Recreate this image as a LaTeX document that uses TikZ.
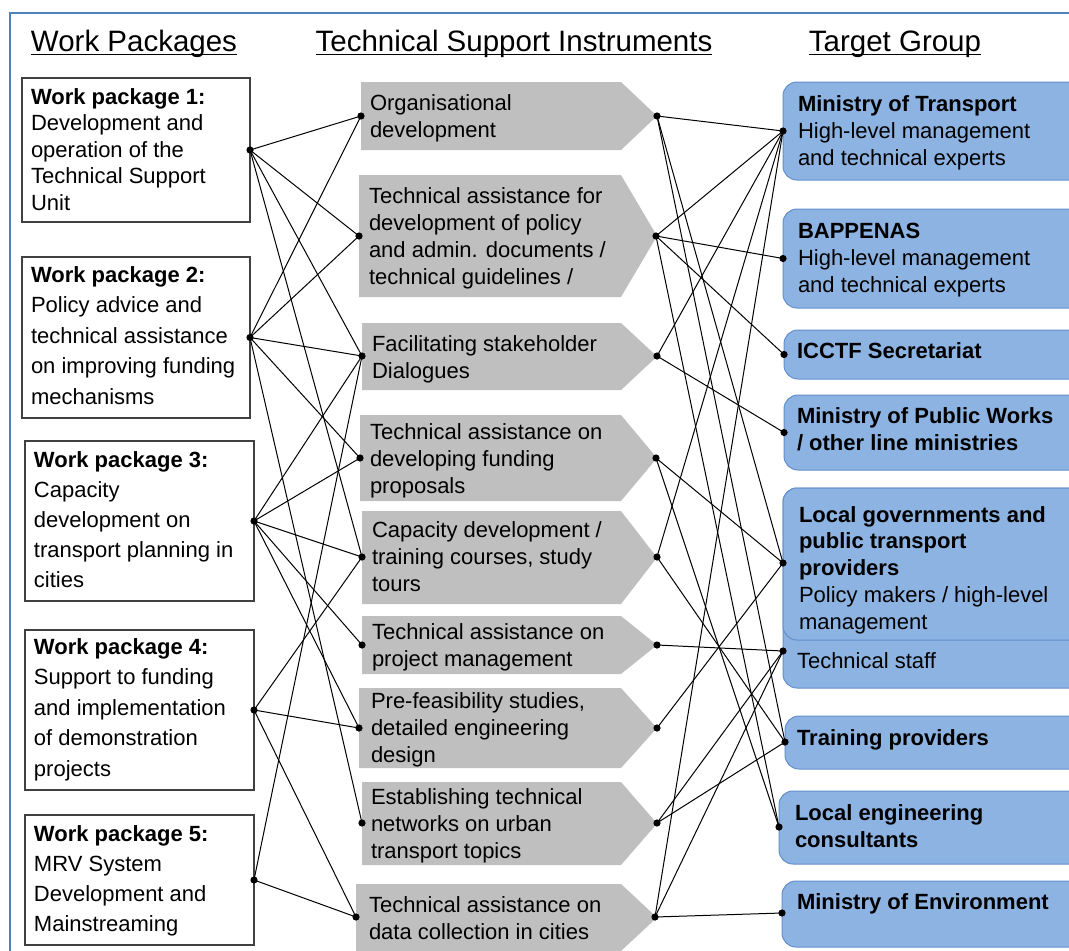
\documentclass[tikz,border=0pt]{standalone}
\usepackage{fontspec}
\setmainfont{Liberation Sans}
\definecolor{tgfill}{RGB}{141,179,226}
\definecolor{tgborder}{RGB}{98,143,204}
\definecolor{frameblue}{RGB}{79,129,189}
\definecolor{chevgray}{RGB}{191,191,191}
\begin{document}
\begin{tikzpicture}[x=1pt,y=-1pt,
  every node/.style={inner sep=0pt, outer sep=0pt},
  body/.style={font=\fontsize{22}{#1}\selectfont, align=left, anchor=base west},
  body/.default=27,
  head/.style={font=\fontsize{29.5}{34}\selectfont, anchor=base},
  wpbox/.style={draw=black!75, line width=1.2pt, fill=white, anchor=north west},
  chev/.style={fill=chevgray},
  tgbox/.style={draw=tgborder, line width=1pt, fill=tgfill, rounded corners=14pt, anchor=north west},
  link/.style={line width=1pt, black},
  uline/.style={line width=1.3pt, black},
]
\useasboundingbox (0,0) rectangle (1069,951);
\clip (0,0) rectangle (1069,951);
\draw[frameblue, line width=1.5pt] (10,960) -- (10,13) -- (1080,13);

% headings
\node[head] (h1) at (134,51) {Work Packages};
\node[head] (h2) at (514,51) {Technical Support Instruments};
\node[head] (h3) at (895,51) {Target Group};
\foreach \h in {h1,h2,h3}
  \draw[uline] ([yshift=-3.5pt]\h.base west) -- ([yshift=-3.5pt]\h.base east);

% work package boxes (text anchored at the baseline of its last line)
\node[wpbox, minimum width=228, minimum height=144] (wp1) at (22,78) {};
\node[wpbox, minimum width=228, minimum height=161] (wp2) at (22,257) {};
\node[wpbox, minimum width=229, minimum height=160] (wp3) at (25,441) {};
\node[wpbox, minimum width=229, minimum height=160] (wp4) at (25,630) {};
\node[wpbox, minimum width=229, minimum height=130] (wp5) at (25,815) {};
\node[body=26.5] (wp1t) at (31,210) {\textbf{Work package 1:}\\Development and\\operation of the\\Technical Support\\Unit};
\node[body=30.5] (wp2t) at (31,404) {\textbf{Work package 2:}\\Policy advice and\\technical assistance\\on improving funding\\mechanisms};
\node[body=30] (wp3t) at (34,587) {\textbf{Work package 3:}\\Capacity\\development on\\transport planning in\\cities};
\node[body=30.5] (wp4t) at (34,776) {\textbf{Work package 4:}\\Support to funding\\and implementation\\of demonstration\\projects};
\node[body=29.7] (wp5t) at (34,931) {\textbf{Work package 5:}\\MRV System\\Development and\\Mainstreaming};

% instrument chevrons
\newcommand\chevshape[3]{\fill[chev] (#1,#2) -- (621,#2) -- (657,{(#2+#3)/2}) -- (621,#3) -- (#1,#3) -- cycle;}
\chevshape{361}{82}{150}
\chevshape{359}{175}{297}
\chevshape{362}{323}{390}
\chevshape{360}{415}{501}
\chevshape{362}{511}{604}
\chevshape{362}{616}{674}
\chevshape{359}{688}{768}
\chevshape{362}{782}{865}
\chevshape{356}{884}{951}
\node[body] (t1) at (370,137) {Organisational\\development};
\node[body] (t2) at (369,284) {Technical assistance for\\development of policy\\and admin. documents /\\technical guidelines /};
\node[body] (t3) at (372,378) {Facilitating stakeholder\\Dialogues};
\node[body] (t4) at (370,493) {Technical assistance on\\developing funding\\proposals};
\node[body] (t5) at (372,591) {Capacity development /\\training courses, study\\tours};
\node[body] (t6) at (372,666) {Technical assistance on\\project management};
\node[body] (t7) at (371,762) {Pre-feasibility studies,\\detailed engineering\\design};
\node[body] (t8) at (371,858) {Establishing technical\\networks on urban\\transport topics};
\node[body] (t9) at (369,939) {Technical assistance on\\data collection in cities};

% target group boxes
\node[tgbox, minimum width=320, minimum height=98] (g1) at (783,82) {};
\node[tgbox, minimum width=320, minimum height=99] (g2) at (783,209) {};
\node[tgbox, minimum width=320, minimum height=49] (g3) at (784,330) {};
\node[tgbox, minimum width=320, minimum height=75] (g4) at (784,395) {};
\node[tgbox, minimum width=320, minimum height=200] (g5all) at (783,488) {};
\node[tgbox, minimum width=320, minimum height=152] (g5) at (783,488) {};
\node[tgbox, minimum width=320, minimum height=53] (g6) at (785,716) {};
\node[tgbox, minimum width=320, minimum height=73] (g7) at (779,791) {};
\node[tgbox, minimum width=320, minimum height=66] (g8) at (782,881) {};
\node[body=26.6] (g1t) at (798,165) {\textbf{Ministry of Transport}\\High-level management\\and technical experts};
\node[body=26.6] (g2t) at (798,292) {\textbf{BAPPENAS}\\High-level management\\and technical experts};
\node[body] (g3t) at (797,358) {\textbf{ICCTF Secretariat}};
\node[body] (g4t) at (797,450) {\textbf{Ministry of Public Works}\\\textbf{/ other line ministries}};
\node[body=26.7] (g5t) at (799,629) {\textbf{Local governments and}\\\textbf{public transport}\\\textbf{providers}\\Policy makers / high-level\\management};
\node[body] (g5s) at (797,668) {Technical staff};
\node[body] (g6t) at (797,745) {\textbf{Training providers}};
\node[body] (g7t) at (795,847) {\textbf{Local engineering}\\\textbf{consultants}};
\node[body] (g8t) at (797,909) {\textbf{Ministry of Environment}};

% connection points
\coordinate (i1) at (361,116);  \coordinate (o1) at (657,116);
\coordinate (i2) at (359,236);  \coordinate (o2) at (656,236);
\coordinate (i3) at (362,356);  \coordinate (o3) at (657,356);
\coordinate (i4) at (360,458);  \coordinate (o4) at (656,458);
\coordinate (i5) at (362,557);  \coordinate (o5) at (657,557);
\coordinate (i6) at (362,645);  \coordinate (o6) at (657,645);
\coordinate (i7) at (359,728);  \coordinate (o7) at (657,728);
\coordinate (i8) at (362,823);  \coordinate (o8) at (657,823);
\coordinate (i9) at (356,917);  \coordinate (o9) at (655,917);
\coordinate (p1) at (g1.west);
\coordinate (p2) at (g2.west);
\coordinate (p3) at (g3.west);
\coordinate (p4) at (g4.west);
\coordinate (p5) at (783,563);
\coordinate (p5s) at (783,651);
\coordinate (p6) at (785,742);
\coordinate (p7) at (779,827);
\coordinate (p8) at (782,913);

% links: work packages -> instruments
\foreach \a/\b in {wp1/i1,wp1/i2,wp1/i3,wp1/i5,
                   wp2/i1,wp2/i2,wp2/i3,wp2/i4,wp2/i8,
                   wp3/i3,wp3/i4,wp3/i5,wp3/i6,wp3/i7,
                   wp4/i5,wp4/i7,wp4/i9,
                   wp5/i3,wp5/i9}
  \draw[link] (\a.east) -- (\b);
% links: instruments -> target groups
\foreach \a/\b in {o1/p1,o1/p5,o1/p6,
                   o2/p1,o2/p2,o2/p3,o2/p7,
                   o3/p1,o3/p4,
                   o4/p5,o4/p7,
                   o5/p1,o5/p6,
                   o6/p5s,
                   o7/p5,
                   o8/p5s,o8/p6,
                   o9/p1,o9/p5s,o9/p8}
  \draw[link] (\a) -- (\b);

% dots
\foreach \p in {wp1.east,wp2.east,wp3.east,wp4.east,wp5.east,
                i1,i2,i3,i4,i5,i6,i7,i8,i9,o1,o2,o3,o4,o5,o6,o7,o8,o9,
                p1,p2,p3,p4,p5,p5s,p6,p7,p8}
  \fill (\p) circle (3.6);
\end{tikzpicture}
\end{document}
